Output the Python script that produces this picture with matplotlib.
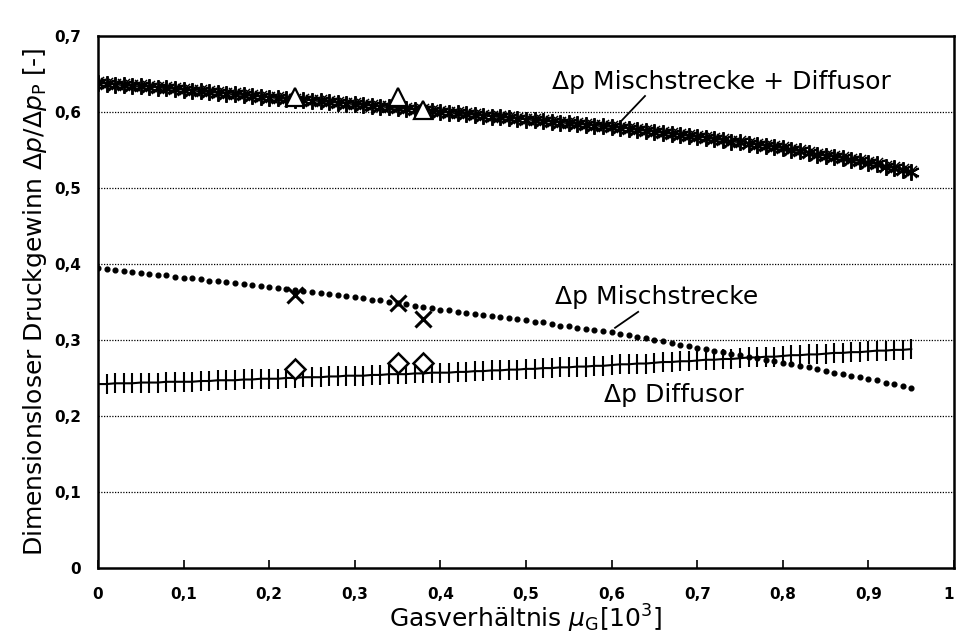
import numpy as np
import matplotlib
matplotlib.use("Agg")
import matplotlib.pyplot as plt

# x grid of the computed curves (gas ratio, step 0.01)
mu_g = np.round(np.arange(0, 0.955, 0.01), 2)

# dp Mischstrecke + Diffusor (asterisk chain)
dp_total = [
    0.638, 0.637, 0.636, 0.635, 0.634, 0.634, 0.633, 0.632, 0.631, 0.630, 0.629,
    0.628, 0.627, 0.626, 0.625, 0.624, 0.623, 0.622, 0.621, 0.620, 0.619,
    0.618, 0.617, 0.616, 0.616, 0.615, 0.614, 0.613, 0.612, 0.611, 0.610,
    0.609, 0.608, 0.607, 0.606, 0.605, 0.604, 0.603, 0.602, 0.601, 0.600,
    0.599, 0.598, 0.597, 0.596, 0.595, 0.594, 0.593, 0.592, 0.591, 0.590,
    0.589, 0.588, 0.587, 0.586, 0.585, 0.584, 0.583, 0.582, 0.581, 0.580,
    0.579, 0.578, 0.576, 0.575, 0.574, 0.572, 0.571, 0.570, 0.568, 0.567,
    0.566, 0.564, 0.563, 0.561, 0.560, 0.558, 0.557, 0.555, 0.554, 0.552,
    0.550, 0.548, 0.546, 0.544, 0.542, 0.541, 0.539, 0.537, 0.535, 0.533,
    0.531, 0.528, 0.526, 0.523, 0.521,
]

# dp Mischstrecke (dotted)
dp_misch = [
    0.395, 0.394, 0.392, 0.391, 0.390, 0.388, 0.387, 0.386, 0.385, 0.383, 0.382,
    0.381, 0.380, 0.378, 0.377, 0.376, 0.375, 0.374, 0.372, 0.371, 0.370,
    0.369, 0.367, 0.366, 0.365, 0.363, 0.362, 0.361, 0.359, 0.358, 0.357,
    0.355, 0.353, 0.352, 0.350, 0.348, 0.347, 0.345, 0.343, 0.342, 0.340,
    0.339, 0.337, 0.336, 0.334, 0.333, 0.332, 0.330, 0.329, 0.327, 0.326,
    0.324, 0.323, 0.321, 0.319, 0.318, 0.316, 0.315, 0.313, 0.312, 0.310,
    0.308, 0.306, 0.304, 0.302, 0.300, 0.298, 0.296, 0.294, 0.292, 0.290,
    0.288, 0.286, 0.284, 0.282, 0.280, 0.278, 0.276, 0.274, 0.272, 0.270,
    0.268, 0.266, 0.264, 0.262, 0.259, 0.257, 0.255, 0.253, 0.251, 0.249,
    0.247, 0.244, 0.242, 0.240, 0.237,
]

# dp Diffusor (line with vertical ticks)
dp_diff = [
    0.242, 0.242, 0.243, 0.243, 0.243, 0.244, 0.244, 0.244, 0.245, 0.245, 0.245,
    0.245, 0.246, 0.246, 0.247, 0.247, 0.247, 0.248, 0.248, 0.249, 0.249,
    0.249, 0.250, 0.250, 0.251, 0.251, 0.251, 0.252, 0.252, 0.253, 0.253,
    0.253, 0.254, 0.254, 0.255, 0.255, 0.255, 0.256, 0.256, 0.257, 0.257,
    0.257, 0.258, 0.258, 0.259, 0.259, 0.260, 0.260, 0.261, 0.261, 0.262,
    0.262, 0.263, 0.263, 0.264, 0.264, 0.265, 0.265, 0.266, 0.266, 0.267,
    0.268, 0.268, 0.269, 0.269, 0.270, 0.271, 0.271, 0.272, 0.272, 0.273,
    0.274, 0.274, 0.275, 0.275, 0.276, 0.277, 0.277, 0.278, 0.278, 0.279,
    0.280, 0.280, 0.281, 0.281, 0.282, 0.283, 0.283, 0.284, 0.284, 0.285,
    0.286, 0.286, 0.287, 0.287, 0.288,
]

# measured points
meas_x = [0.23, 0.35, 0.38]
meas_total = [0.62, 0.62, 0.603]
meas_misch = [0.359, 0.349, 0.328]
meas_diff = [0.262, 0.270, 0.270]

x_ticks = [0, 0.1, 0.2, 0.3, 0.4, 0.5, 0.6, 0.7, 0.8, 0.9, 1.0]
x_labels = ["0", "0,1", "0,2", "0,3", "0,4", "0,5", "0,6", "0,7", "0,8", "0,9", "1"]
y_ticks = [0, 0.1, 0.2, 0.3, 0.4, 0.5, 0.6, 0.7]
y_labels = ["0", "0,1", "0,2", "0,3", "0,4", "0,5", "0,6", "0,7"]

plt.rcParams['font.family'] = ['DejaVu Sans']

fig = plt.figure(figsize=(9.57, 6.41), dpi=100)
ax = fig.add_axes([0.1024, 0.1139, 0.8945, 0.830])

# grid lines (dotted)
for yv in y_ticks[1:-1]:
    ax.axhline(yv, color='black', lw=0.9, ls=(0, (1, 1.2)), zorder=1)

# curves
ax.plot(mu_g, dp_total, color='black', lw=1.2, marker=(6, 2, 0),
        markersize=12, markeredgewidth=1.4, zorder=3)
ax.plot(mu_g, dp_total, ls='none', marker='x', color='black',
        markersize=8, markeredgewidth=1.1, zorder=3)
ax.plot(mu_g, dp_misch, ls='none', marker='o', color='black',
        markersize=3.4, zorder=3)
ax.plot(mu_g, dp_diff, color='black', lw=1.5, marker='|',
        markersize=15, markeredgewidth=1.5, zorder=3)

# measured points
ax.plot(meas_x, meas_total, ls='none', marker='^', markersize=13,
        markerfacecolor='white', markeredgecolor='black', markeredgewidth=1.6, zorder=4)
ax.plot(meas_x, meas_misch, ls='none', marker='x', markersize=12,
        color='black', markeredgewidth=2.2, zorder=4)
ax.plot(meas_x, meas_diff, ls='none', marker='D', markersize=10,
        markerfacecolor='white', markeredgecolor='black', markeredgewidth=1.8, zorder=4)

# curve labels with leader lines
ax.text(0.728, 0.639, "Δp Mischstrecke + Diffusor", fontsize=18,
        ha='center', va='center')
ax.plot([0.639, 0.612], [0.621, 0.589], color='black', lw=1.3, zorder=5)
ax.text(0.653, 0.357, "Δp Mischstrecke", fontsize=18, ha='center', va='center')
ax.plot([0.631, 0.604], [0.337, 0.316], color='black', lw=1.3, zorder=5)
ax.text(0.673, 0.228, "Δp Diffusor", fontsize=18, ha='center', va='center')

ax.set_xlim(0, 1)
ax.set_ylim(0, 0.7)
ax.set_xticks(x_ticks)
ax.set_xticklabels(x_labels, fontsize=11, fontweight='bold')
ax.get_xticklabels()[-1].set_horizontalalignment('right')
ax.set_yticks(y_ticks)
ax.set_yticklabels(y_labels, fontsize=11, fontweight='bold')
ax.tick_params(axis='x', direction='in', length=6, width=1.2, pad=14)
ax.tick_params(axis='y', length=0, pad=12)
for s in ax.spines.values():
    s.set_linewidth(1.8)

ax.set_xlabel(r"Gasverhältnis $\mu_\mathrm{G}$[10$^3$]", fontsize=18, labelpad=0)
ax.set_ylabel(r"Dimensionsloser Druckgewinn $\Delta p/\Delta p_\mathrm{P}$ [-]",
              fontsize=18, labelpad=4)

fig.savefig("out.png", dpi=100)
